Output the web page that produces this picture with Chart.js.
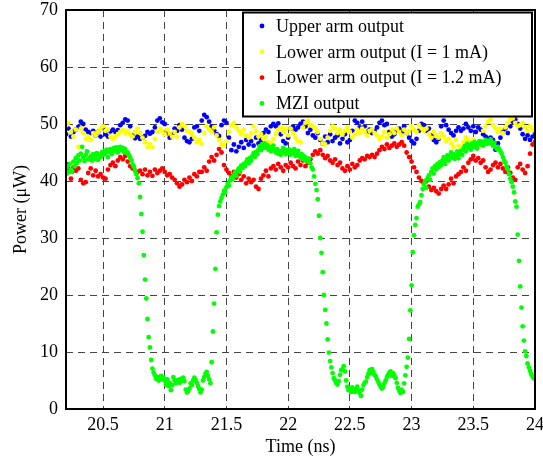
<!DOCTYPE html>
<html>
<head>
<meta charset="utf-8">
<title>MZI output vs time</title>
<script src="https://cdn.jsdelivr.net/npm/chart.js@4.4.0/dist/chart.umd.min.js"></script>
<style>
  html, body { margin: 0; padding: 0; background: #fff; }
  #wrap { width: 543px; height: 462px; }
</style>
</head>
<body>
<div id="wrap"><canvas id="mziChart" width="543" height="462"></canvas></div>
<script>
// Sampling of the traces (ns)
const startTime = 20.2;
const armStep = 0.02;
const mziStep = 0.01;

const seriesLabels = ['Upper arm output', 'Lower arm output (I = 1 mA)', 'Lower arm output (I = 1.2 mA)', 'MZI output'];
const seriesColors = ['#0000ff', '#ffff00', '#ff0000', '#00ff00'];
const xTicks = [20.5, 21, 21.5, 22, 22.5, 23, 23.5, 24];
const yTicks = [0, 10, 20, 30, 40, 50, 60, 70];

// Power in uW, one line per 0.1 ns
const upperArm = [
  48.2, 49.2, 47.8, 48.6, 49.0,
  49.5, 50.4, 50.0, 49.0, 48.6,
  48.4, 48.8, 48.0, 48.6, 47.8,
  49.3, 48.2, 47.8, 48.7, 49.0,
  48.6, 48.9, 49.8, 50.2, 50.8,
  50.6, 49.6, 48.0, 47.5, 47.8,
  47.4, 47.6, 47.9, 48.6, 48.3,
  48.6, 49.4, 50.6, 51.0, 50.3,
  50.0, 48.4, 47.6, 48.2, 49.2,
  48.8, 49.8, 49.0, 47.6, 47.0,
  46.8, 47.4, 49.4, 49.6, 48.8,
  50.6, 51.6, 51.2, 50.4, 49.6,
  48.9, 48.2, 47.9, 49.8, 50.6,
  50.2, 47.6, 45.4, 46.4, 45.2,
  46.0, 46.8, 45.8, 47.2, 46.4,
  47.0, 46.2, 47.6, 46.6, 47.2,
  48.4, 49.0, 48.6, 49.6, 50.0,
  49.6, 50.1, 48.2, 47.0, 46.6,
  47.6, 49.2, 49.6, 49.0, 49.4,
  50.0, 50.4, 49.6, 48.4, 49.0,
  48.0, 47.6, 48.4, 47.2, 46.6,
  47.8, 46.8, 48.2, 47.0, 47.6,
  48.0, 46.6, 47.4, 48.2, 46.8,
  47.2, 48.8, 50.6, 50.2, 49.4,
  50.4, 49.6, 48.6, 49.0, 48.4,
  48.8, 49.4, 50.2, 50.6, 49.8,
  50.0, 48.6, 47.8, 48.2, 48.8,
  49.2, 48.6, 49.6, 48.4, 47.6,
  47.0, 46.6, 47.4, 48.8, 50.0,
  49.8, 48.8, 49.2, 48.0, 47.2,
  46.8, 47.4, 49.6, 50.6, 49.8,
  49.0, 48.4, 48.0, 48.8, 49.4,
  48.8, 49.2, 50.0, 49.4, 48.8,
  49.6, 48.6, 49.4, 49.0, 48.2,
  47.8, 47.4, 47.6, 47.2, 45.5,
  46.6, 47.6, 48.6, 49.2, 48.4,
  49.6, 50.4, 50.8, 50.0, 49.2,
  48.2, 47.4, 48.0, 47.2, 47.8,
  48.4
];

const lowerArm1mA = [
  49.8, 50.2, 48.6, 47.8, 49.0,
  46.0, 49.2, 48.4, 47.4, 47.8,
  47.2, 48.4, 48.0, 48.6, 49.2,
  49.6, 48.8, 49.0, 47.8, 47.4,
  47.8, 48.2, 48.6, 49.0, 48.4,
  48.8, 48.2, 47.8, 48.6, 49.2,
  48.4, 47.6, 46.8, 46.0, 46.4,
  45.9, 47.4, 48.6, 49.2, 48.8,
  48.2, 49.0, 48.4, 47.8, 48.6,
  47.8, 49.4, 50.0, 49.6, 48.8,
  48.6, 48.2, 47.6, 46.8, 47.2,
  46.5, 48.4, 49.6, 49.0, 48.6,
  49.4, 48.0, 47.2, 46.4, 46.2,
  47.0, 48.6, 49.8, 50.2, 49.4,
  48.8, 48.2, 49.0, 48.0, 47.6,
  48.4, 49.6, 48.8, 47.8, 48.2,
  47.4, 47.8, 46.8, 46.6, 47.4,
  48.2, 49.0, 49.4, 48.6, 49.2,
  48.0, 49.2, 48.4, 47.6, 47.0,
  46.8, 49.4, 50.2, 50.6, 49.8,
  49.6, 49.2, 48.6, 47.4, 46.6,
  46.4, 47.6, 48.8, 49.6, 49.2,
  48.4, 49.0, 48.2, 48.8, 49.4,
  48.6, 47.6, 48.2, 49.0, 48.4,
  49.2, 48.6, 48.0, 48.8, 49.0,
  48.4, 48.0, 47.4, 47.8, 48.6,
  47.6, 48.2, 49.0, 48.4, 49.2,
  48.6, 48.0, 49.0, 48.4, 48.8,
  49.6, 49.0, 48.6, 49.8, 49.2,
  48.8, 49.2, 48.2, 47.6, 48.6,
  48.0, 47.6, 48.4, 47.8, 47.0,
  47.4, 46.6, 46.0, 47.2, 46.2,
  45.8, 46.8, 47.6, 47.2, 46.8,
  47.2, 46.6, 46.3, 47.0, 48.8,
  49.6, 50.4, 50.8, 49.8, 49.2,
  48.6, 49.2, 48.4, 49.4, 50.2,
  50.8, 51.0, 50.2, 49.6, 49.8,
  50.2, 49.4, 48.8, 49.6, 49.0,
  48.8
];

const lowerArm12mA = [
  43.0, 42.2, 40.4, 42.4, 41.8,
  42.2, 40.2, 39.6, 39.8, 41.4,
  42.2, 41.0, 41.8, 40.8, 41.2,
  40.6, 40.4, 42.0, 42.8, 43.2,
  42.6, 43.6, 44.2, 43.8, 44.4,
  43.4, 42.6, 42.2, 41.8, 41.6,
  41.8, 41.2, 42.0, 41.0, 41.6,
  40.9, 42.0, 41.4, 41.8, 42.2,
  41.6, 41.0, 41.2, 40.6, 40.2,
  39.6, 39.0, 39.4, 40.2, 39.8,
  40.6, 40.0, 41.2, 40.8, 41.6,
  41.6, 42.4, 41.8, 43.4, 44.2,
  43.6, 44.6, 45.6, 45.0, 42.8,
  42.0, 41.4, 40.8, 41.6, 40.6,
  41.2, 40.2, 40.8, 39.6, 40.4,
  39.8, 40.2, 39.0, 38.6, 40.4,
  41.0, 41.8, 40.8, 42.2, 42.6,
  42.0, 43.0, 42.4, 41.8, 42.8,
  42.4, 43.2, 42.6, 42.2, 43.4,
  42.8, 43.6, 42.6, 43.2, 43.8,
  44.6, 45.2, 44.8, 45.4, 44.6,
  44.0, 44.4, 43.6, 43.2, 43.8,
  42.8, 43.2, 42.2, 41.8, 42.6,
  42.0, 43.0, 42.4, 42.8, 43.6,
  44.0, 43.8, 44.4, 44.2, 44.6,
  44.2, 44.8, 45.4, 46.0, 45.6,
  46.4, 45.8, 46.2, 46.6, 46.0,
  46.4, 46.8, 46.2, 45.0, 44.2,
  43.4, 42.4, 41.6, 40.6, 40.0,
  39.6, 40.0, 39.0, 38.4, 38.8,
  38.2, 37.8, 38.6, 39.2, 38.6,
  39.4, 40.4, 39.6, 40.8, 41.2,
  41.6, 42.4, 41.8, 43.2, 43.8,
  44.4, 43.6, 44.0, 43.2, 43.6,
  42.4, 41.6, 42.0, 42.8, 43.2,
  42.4, 43.0, 42.2, 41.6, 42.4,
  41.4, 40.6, 40.2, 42.4, 43.0,
  42.0, 41.4, 42.6, 44.8, 46.4,
  46.8
];

const mziOutput = [
  41.2, 42.5, 41.5, 43.0, 42.0, 41.6, 43.4, 42.6, 44.0, 43.2,
  44.5, 43.6, 44.8, 46.0, 44.2, 43.5, 44.6, 45.2, 43.8, 44.0,
  44.3, 43.6, 44.7, 43.9, 44.4, 44.9, 43.7, 44.5, 44.2, 45.0,
  44.6, 45.3, 44.8, 45.5, 44.2, 45.1, 45.6, 44.7, 45.3, 45.8,
  45.2, 45.9, 45.0, 45.7, 46.0, 45.4, 45.8, 45.1, 45.6, 44.9,
  45.0, 44.6, 44.1, 43.6, 42.9, 42.5, 41.8, 41.2, 40.5, 39.6,
  37.2, 34.2, 31.1, 27.0, 22.7, 19.4, 15.8, 12.6, 10.8, 8.6,
  7.1, 6.4, 5.9, 5.3, 5.6, 5.0, 5.4, 5.8, 5.2, 5.5,
  5.0, 4.3, 5.2, 4.0, 4.6, 3.3, 4.2, 5.6, 5.0, 4.5,
  4.8, 5.1, 4.6, 5.3, 5.0, 5.5, 4.9, 3.4, 2.9, 3.1,
  3.6, 4.5, 4.2, 5.0, 5.5, 5.1, 4.6, 4.0, 3.5, 2.9,
  3.4, 5.0, 5.6, 6.2, 6.5, 5.8, 5.2, 4.5, 8.2, 13.6,
  18.5, 24.6, 31.0, 34.1, 35.6, 36.4, 37.0, 37.6, 38.3, 38.0,
  38.9, 39.5, 39.2, 40.1, 40.6, 40.3, 41.0, 41.5, 40.9, 41.8,
  42.2, 41.6, 42.7, 42.3, 43.0, 42.6, 43.3, 43.8, 43.1, 44.0,
  43.6, 44.4, 44.9, 44.2, 45.1, 44.7, 45.5, 46.1, 45.4, 46.4,
  45.8, 46.6, 45.9, 46.3, 45.5, 46.0, 45.2, 45.7, 46.2, 45.4,
  45.0, 45.6, 44.8, 45.3, 44.6, 45.1, 45.8, 45.2, 44.7, 45.4,
  45.0, 45.5, 44.6, 45.2, 44.9, 45.6, 44.4, 44.9, 45.3, 44.5,
  44.1, 44.7, 43.8, 44.3, 43.6, 44.0, 43.4, 43.9, 43.1, 42.4,
  42.0, 40.8, 39.5, 38.4, 36.8, 33.9, 30.0, 27.4, 24.0, 20.0,
  17.4, 15.0, 12.2, 9.9, 8.4, 7.3, 6.3, 5.4, 5.0, 4.5,
  4.3, 4.9, 6.0, 6.8, 7.0, 7.5, 6.6, 5.0, 3.9, 3.3,
  3.6, 3.0, 3.8, 3.3, 3.0, 3.5, 3.9, 3.2, 2.8, 2.3,
  3.4, 4.2, 4.6, 4.8, 5.6, 6.2, 6.8, 6.3, 7.0, 6.5,
  6.0, 5.7, 5.2, 4.8, 4.3, 3.9, 3.6, 3.9, 4.5, 5.0,
  5.6, 6.0, 6.4, 6.6, 5.8, 6.3, 5.9, 5.4, 4.6, 3.7,
  3.2, 2.8, 3.4, 3.0, 4.5, 5.9, 7.4, 9.0, 12.3, 17.3,
  21.7, 27.5, 30.5, 32.3, 33.5, 35.5, 35.9, 36.3, 37.5, 38.6,
  39.4, 40.0, 38.8, 40.5, 41.0, 40.2, 41.6, 42.2, 41.3, 42.6,
  42.0, 43.0, 42.4, 43.3, 42.8, 43.6, 44.2, 43.0, 43.8, 44.5,
  43.6, 44.3, 45.0, 44.1, 44.7, 43.9, 44.5, 45.2, 44.0, 44.8,
  45.3, 44.6, 45.6, 46.1, 45.2, 46.5, 45.8, 46.3, 45.5, 46.6,
  46.0, 46.8, 46.2, 45.7, 46.6, 47.0, 46.4, 46.9, 46.2, 46.8,
  47.2, 46.5, 47.0, 46.6, 47.3, 46.8, 46.2, 46.7, 46.0, 45.6,
  46.0, 45.6, 45.2, 44.8, 44.2, 43.6, 43.2, 42.5, 42.0, 41.2,
  40.4, 39.8, 39.0, 38.0, 36.4, 35.5, 30.6, 26.0, 21.5, 17.8,
  14.5, 12.0, 10.1, 9.3, 8.0, 7.3, 6.7, 6.1, 5.7, 5.4,
  5.3
];

// turn a list of samples into {x, y} points on the time axis
function toPoints(values, step) {
    return values.map((v, i) => ({ x: +(startTime + i * step).toFixed(2), y: v }));
}

const seriesValues = [upperArm, lowerArm1mA, lowerArm12mA, mziOutput];
const seriesSteps = [armStep, armStep, armStep, mziStep];

const serifFont = '"Liberation Serif", "Times New Roman", serif';
Chart.defaults.font.family = serifFont;
Chart.defaults.color = '#000';

// keep the label overhang from shrinking the plot area
function noOverhang(s) {
    s.paddingTop = 0;
    s.paddingBottom = 0;
    s.paddingLeft = 0;
    s.paddingRight = 0;
}

// box around the plot and the legend in the upper right corner
const boxAndLegend = {
    id: 'boxAndLegend',
    afterDraw(chart) {
        const { ctx, chartArea: a } = chart;
        ctx.save();
        ctx.strokeStyle = '#000';
        ctx.lineWidth = 2;
        ctx.strokeRect(a.left, a.top, a.right - a.left, a.bottom - a.top);

        const bx = a.right - 292, by = a.top + 2.5, bw = 289, bh = 104;
        ctx.fillStyle = '#fff';
        ctx.fillRect(bx, by, bw, bh);
        ctx.strokeRect(bx, by, bw, bh);

        ctx.font = '18px ' + serifFont;
        ctx.textBaseline = 'middle';
        ctx.textAlign = 'left';
        chart.data.datasets.forEach((ds, i) => {
            const y = by + 14.5 + i * 25.8;
            ctx.fillStyle = ds.backgroundColor;
            ctx.beginPath();
            ctx.arc(bx + 19, y - 1, 2.4, 0, Math.PI * 2);
            ctx.fill();
            ctx.fillStyle = '#000';
            ctx.fillText(ds.label, bx + 33, y);
        });
        ctx.restore();
    }
};

const ctx = document.getElementById('mziChart').getContext('2d');
new Chart(ctx, {
    type: 'scatter',
    data: {
        datasets: seriesLabels.map((label, i) => ({
            label: label,
            data: toPoints(seriesValues[i], seriesSteps[i]),
            backgroundColor: seriesColors[i],
            borderWidth: 0,
            pointRadius: 2.4,
            pointHoverRadius: 2.4,
            order: 4 - i
        }))
    },
    options: {
        responsive: false,
        animation: false,
        devicePixelRatio: 1,
        layout: { padding: { top: 10, right: 8, left: 0, bottom: 0 } },
        plugins: {
            legend: { display: false },
            tooltip: { enabled: false }
        },
        scales: {
            x: {
                type: 'linear',
                min: 20.2,
                max: 24,
                afterBuildTicks: s => { s.ticks = xTicks.map(v => ({ value: v })); },
                afterFit: s => { s.height = 53; noOverhang(s); },
                ticks: {
                    font: { size: 18 },
                    padding: 5,
                    maxRotation: 0,
                    callback: v => String(v)
                },
                grid: { color: '#444', lineWidth: 1, drawTicks: false },
                border: { display: false, dash: [7, 5] },
                title: {
                    display: true,
                    text: 'Time (ns)',
                    font: { size: 18 },
                    padding: { top: 0, bottom: 4 }
                }
            },
            y: {
                min: 0,
                max: 70,
                afterBuildTicks: s => { s.ticks = yTicks.map(v => ({ value: v })); },
                afterFit: s => { s.width = 66; noOverhang(s); },
                ticks: {
                    font: { size: 18 },
                    padding: 8,
                    callback: v => String(v)
                },
                grid: { color: '#444', lineWidth: 1, drawTicks: false },
                border: { display: false, dash: [7, 5] },
                title: {
                    display: true,
                    text: 'Power (\u03bcW)',
                    font: { size: 18 },
                    padding: { top: 10, bottom: 0 }
                }
            }
        }
    },
    plugins: [boxAndLegend]
});
</script>
</body>
</html>
